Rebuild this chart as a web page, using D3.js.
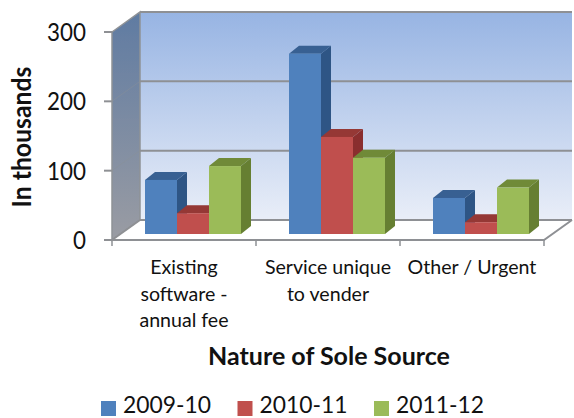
<!DOCTYPE html>
<html><head><meta charset="utf-8">
<script src="https://cdn.jsdelivr.net/npm/d3@7"></script>
<style>html,body{margin:0;padding:0;background:#fff}svg{display:block}text{font-family:Lato,"Open Sans",sans-serif;fill:#111}</style>
</head><body><svg id="c" width="574" height="418"></svg>
<script>
const categories = [["Existing","software -","annual fee"],["Service unique","to vender"],["Other / Urgent"]];
const seriesNames = ["2009-10","2010-11","2011-12"];
const values2009 = [78,260,52];
const values2010 = [30,140,17];
const values2011 = [98,110,67];
const yTicks = [0,100,200,300];
const xAxisTitle = "Nature of Sole Source";
const yAxisTitle = "In thousands";
const front = ["#4f81bd","#c0504d","#9bbb59"], top3 = ["#376092","#953735","#6f8a37"], side = ["#2f5585","#8a2f2d","#667f33"];
const seriesValues = [values2009,values2010,values2011];

const svg = d3.select("#c");
const W = {x0:112,x1:544,y0:240,y1:32,dx:28,dy:-20};
const y = d3.scaleLinear().domain([0,300]).range([W.y0,W.y1]);
const x = d3.scaleBand().domain(d3.range(categories.length)).range([W.x0,W.x1]);
const inner = d3.scaleBand().domain(d3.range(3)).range([0,96]);
const pts = a => a.map(p=>p.join(",")).join(" ");
const defs = svg.append("defs");
const g1 = defs.append("linearGradient").attr("id","wall").attr("x1",0).attr("x2",0).attr("y1",0).attr("y2",1);
g1.append("stop").attr("offset",0).attr("stop-color","#97b4e3");
g1.append("stop").attr("offset",1).attr("stop-color","#e9eef8");
const g2 = defs.append("linearGradient").attr("id","side").attr("x1",0).attr("x2",0).attr("y1",0).attr("y2",1);
g2.append("stop").attr("offset",0).attr("stop-color","#5f7ba2");
g2.append("stop").attr("offset",1).attr("stop-color","#9a9ca3");
defs.append("filter").attr("id","soft").append("feGaussianBlur").attr("stdDeviation",0.45);
const chart = svg.append("g").attr("filter","url(#soft)");

// walls
chart.append("polygon").attr("points",pts([[W.x0+W.dx,y(300)+W.dy],[W.x1+W.dx,y(300)+W.dy],[W.x1+W.dx,y(0)+W.dy],[W.x0+W.dx,y(0)+W.dy]])).attr("fill","url(#wall)");
chart.append("polygon").attr("points",pts([[W.x0,y(300)],[W.x0+W.dx,y(300)+W.dy],[W.x0+W.dx,y(0)+W.dy],[W.x0,y(0)]])).attr("fill","url(#side)").attr("stroke","#8f9296").attr("stroke-width",1.5);
// gridlines
chart.selectAll(".grid").data(yTicks).join("line")
 .attr("x1",W.x0+W.dx).attr("x2",W.x1+W.dx).attr("y1",d=>y(d)+W.dy).attr("y2",d=>y(d)+W.dy)
 .attr("stroke","#8e9094").attr("stroke-width",2);
chart.selectAll(".gridside").data(yTicks.slice(1,3)).join("line")
 .attr("x1",W.x0).attr("x2",W.x0+W.dx).attr("y1",d=>y(d)).attr("y2",d=>y(d)+W.dy)
 .attr("stroke","#8a9097").attr("stroke-width",1).attr("opacity",.45);
// floor
chart.append("polygon").attr("points",pts([[W.x0,W.y0],[W.x0+W.dx,W.y0+W.dy],[W.x1+W.dx,W.y0+W.dy],[W.x1,W.y0]])).attr("fill","#fff");
chart.append("line").attr("x1",W.x0+W.dx).attr("x2",W.x1+W.dx).attr("y1",W.y0+W.dy).attr("y2",W.y0+W.dy).attr("stroke","#8e9094").attr("stroke-width",2);
chart.append("polyline").attr("points",pts([[W.x0,W.y0],[W.x1,W.y0],[W.x1+W.dx,W.y0+W.dy]])).attr("fill","none").attr("stroke","#8e9094").attr("stroke-width",2);
chart.append("line").attr("x1",W.x0).attr("x2",W.x0+W.dx).attr("y1",W.y0).attr("y2",W.y0+W.dy).attr("stroke","#8e9094").attr("stroke-width",2);
// ticks
chart.selectAll(".yt").data(yTicks).join("line").attr("x1",W.x0-8).attr("x2",W.x0).attr("y1",d=>y(d)).attr("y2",d=>y(d)).attr("stroke","#8e9094").attr("stroke-width",2);
chart.selectAll(".xt").data(d3.range(4)).join("line").attr("x1",d=>W.x0+d*x.bandwidth()).attr("x2",d=>W.x0+d*x.bandwidth()).attr("y1",W.y0).attr("y2",W.y0+6).attr("stroke","#8e9094").attr("stroke-width",1.5);

// bars
const base = 6, bdx = 10, bdy = -8, shift = 9;
categories.forEach((c,i)=>{
  const gx = x(i)+(x.bandwidth()-96)/2+shift;
  [0,1,2].forEach(s=>{
    const v = seriesValues[s][i], l = gx+inner(s), r = l+inner.bandwidth(), b = y(0)-base, t = y(v)-base;
    const bg = chart.append("g");
    bg.append("polygon").attr("points",pts([[r,b],[r+bdx,b+bdy],[r+bdx,t+bdy],[r,t]])).attr("fill",side[s]);
    bg.append("polygon").attr("points",pts([[l,t],[l+bdx,t+bdy],[r+bdx,t+bdy],[r,t]])).attr("fill",top3[s]);
    bg.append("rect").attr("x",l).attr("y",t).attr("width",inner.bandwidth()).attr("height",b-t).attr("fill",front[s]);
  });
});

// text
svg.selectAll(".yl").data(yTicks).join("text").attr("x",86).attr("y",d=>y(d)+9).attr("text-anchor","end").attr("font-size",25).attr("textLength",d=>d?39:13).attr("lengthAdjust","spacingAndGlyphs").text(d=>d);
categories.forEach((c,i)=>{
  const cx = x(i)+x.bandwidth()/2;
  c.forEach((t,j)=>svg.append("text").attr("x",cx).attr("y",274+j*26.5).attr("text-anchor","middle").attr("font-size",19.6).text(t));
});
svg.append("text").attr("x",329).attr("y",365).attr("text-anchor","middle").attr("font-size",25).attr("font-weight",700).text(xAxisTitle);
svg.append("text").attr("transform","translate(31,137) rotate(-90)").attr("text-anchor","middle").attr("font-size",26).attr("font-weight",700).attr("textLength",141).attr("lengthAdjust","spacingAndGlyphs").text(yAxisTitle);
const legendX = d3.scalePoint().domain(seriesNames).range([101,374]);
seriesNames.forEach((n,i)=>{
  svg.append("rect").attr("x",legendX(n)).attr("y",401).attr("width",15).attr("height",15).attr("fill",front[i]);
  svg.append("text").attr("x",legendX(n)+22).attr("y",413).attr("font-size",23).attr("textLength",88).attr("lengthAdjust","spacingAndGlyphs").text(n);
});
</script></body></html>
